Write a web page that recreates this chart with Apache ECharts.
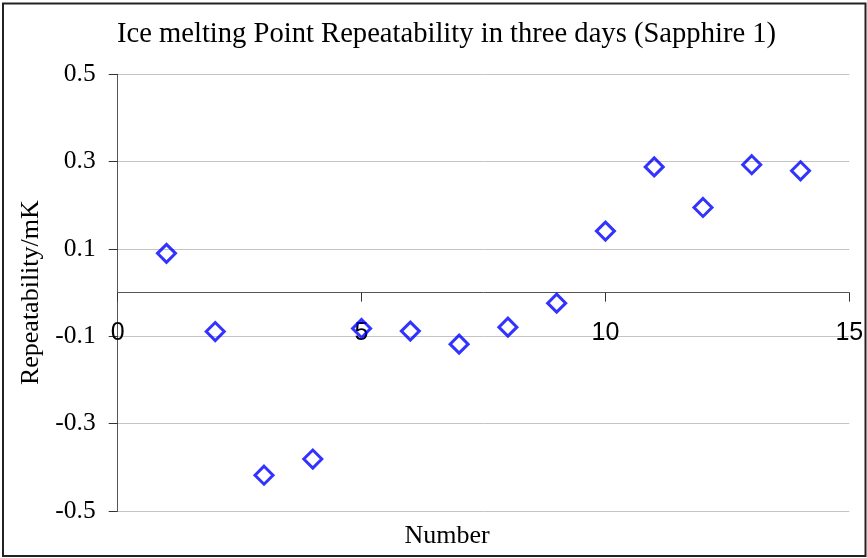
<!DOCTYPE html>
<html>
<head>
<meta charset="utf-8">
<style>
  html, body { margin: 0; padding: 0; background: #fff; }
  #chart { width: 867px; height: 558px; }
</style>
<script src="https://cdn.jsdelivr.net/npm/echarts@6/dist/echarts.min.js"></script>
</head>
<body>
<div id="chart"></div>
<script>
// Measurement index (run number) and repeatability in mK
const runNumbers = [1, 2, 3, 4, 5, 6, 7, 8, 9, 10, 11, 12, 13, 14];
const repeatability = [0.090, -0.089, -0.418, -0.381, -0.082, -0.088, -0.118, -0.079, -0.024, 0.141, 0.288, 0.195, 0.293, 0.279];

const titleText = 'Ice melting Point Repeatability in three days (Sapphire 1)';
const xAxisName = 'Number';
const yAxisName = 'Repeatability/mK';

const serif = '"Liberation Serif", "Times New Roman", serif';
const sans = '"Liberation Sans", Arial, sans-serif';

const points = runNumbers.map((n, i) => [n, repeatability[i]]);

const chart = echarts.init(document.getElementById('chart'), null, { renderer: 'canvas' });

chart.setOption({
  backgroundColor: '#ffffff',
  animation: false,
  title: {
    text: titleText,
    left: 117,
    top: 20,
    padding: 0,
    textStyle: { fontFamily: serif, fontSize: 28.6, fontWeight: 'normal', color: '#000' }
  },
  grid: {
    left: 117.7, right: 17.7, top: 74.3, bottom: 47,
    containLabel: false,
    outerBoundsMode: 'none'
  },
  xAxis: {
    type: 'value',
    min: 0,
    max: 15,
    interval: 5,
    name: xAxisName,
    nameLocation: 'middle',
    nameGap: 12,
    nameMoveOverlap: false,
    nameTextStyle: { fontFamily: serif, fontSize: 26, color: '#000', padding: [0, 73, 0, 0] },
    axisLine: { show: true, onZero: true, lineStyle: { color: '#555', width: 1 } },
    axisTick: { show: true, inside: false, length: 9, lineStyle: { color: '#333', width: 1 } },
    // tick labels sit a little below the zero line, over the lower half of the plot
    axisLabel: { margin: -190, fontFamily: sans, fontSize: 25, color: '#000', hideOverlap: false },
    splitLine: { show: false }
  },
  yAxis: {
    type: 'value',
    min: -0.5,
    max: 0.5,
    interval: 0.2,
    name: yAxisName,
    nameLocation: 'middle',
    nameGap: 74,
    nameRotate: 90,
    nameTextStyle: { fontFamily: serif, fontSize: 26, color: '#000' },
    axisLine: { show: true, onZero: false, lineStyle: { color: '#555', width: 1 } },
    axisTick: { show: true, inside: false, length: 9, lineStyle: { color: '#333', width: 1 } },
    axisLabel: {
      margin: 22,
      fontFamily: serif,
      fontSize: 25.5,
      color: '#000',
      formatter: v => v.toFixed(1)
    },
    splitLine: { show: true, lineStyle: { color: '#c4c4c4', width: 1 } }
  },
  series: [{
    type: 'scatter',
    data: points,
    symbol: 'diamond',
    symbolSize: 18,
    itemStyle: { color: 'rgba(255,255,255,0)', borderColor: '#0000ff', borderWidth: 3 }
  }],
  graphic: [{
    type: 'rect',
    silent: true,
    shape: { x: 3, y: 3.5, width: 862.5, height: 552.5 },
    style: { fill: 'none', stroke: '#222', lineWidth: 2 }
  }]
});
</script>
</body>
</html>
